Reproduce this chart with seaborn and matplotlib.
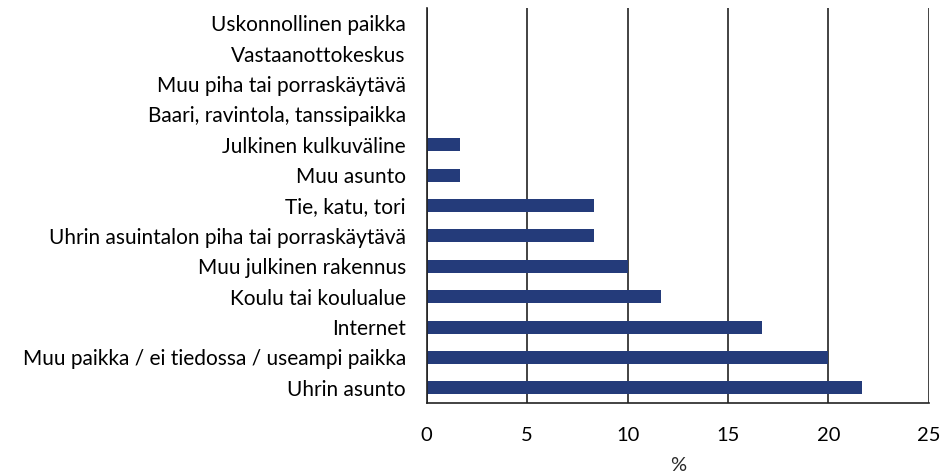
import pandas as pd
import matplotlib.pyplot as plt
import seaborn as sns

# data (percent)
places = [
    "Uskonnollinen paikka",
    "Vastaanottokeskus",
    "Muu piha tai porraskäytävä",
    "Baari, ravintola, tanssipaikka",
    "Julkinen kulkuväline",
    "Muu asunto",
    "Tie, katu, tori",
    "Uhrin asuintalon piha tai porraskäytävä",
    "Muu julkinen rakennus",
    "Koulu tai koulualue",
    "Internet",
    "Muu paikka / ei tiedossa / useampi paikka",
    "Uhrin asunto",
]
shares = [0, 0, 0, 0, 1.67, 1.67, 8.33, 8.33, 10.0, 11.67, 16.67, 20.0, 21.67]

df = pd.DataFrame({"paikka": places, "osuus": shares})

sns.set_theme(style="white")
plt.rcParams["font.family"] = ["Lato", "DejaVu Sans"]

fig = plt.figure(figsize=(9.44, 4.73), dpi=100)
ax = fig.add_axes([0.452, 0.148, 0.532, 0.835])

sns.barplot(data=df, x="osuus", y="paikka", orient="h", color="#243b7a",
            width=0.43, saturation=1, linewidth=0, ax=ax)

ax.set_xlim(0, 25)
ax.set_ylim(12.5, -0.5)
ax.set_xticks([0, 5, 10, 15, 20, 25])
ax.xaxis.grid(True, color="#222222", linewidth=1.2)
ax.set_axisbelow(True)

for side in ["top", "right"]:
    ax.spines[side].set_visible(False)
for side in ["left", "bottom"]:
    ax.spines[side].set_color("#222222")
    ax.spines[side].set_linewidth(1.2)

ax.tick_params(axis="y", length=0, pad=15, labelsize=15, labelcolor="black")
ax.tick_params(axis="x", length=0, pad=17, labelsize=14.5, labelcolor="black")
ax.set_ylabel("")
ax.set_xlabel("%", fontsize=14.5, labelpad=10)

fig.savefig("out.png", dpi=100)
